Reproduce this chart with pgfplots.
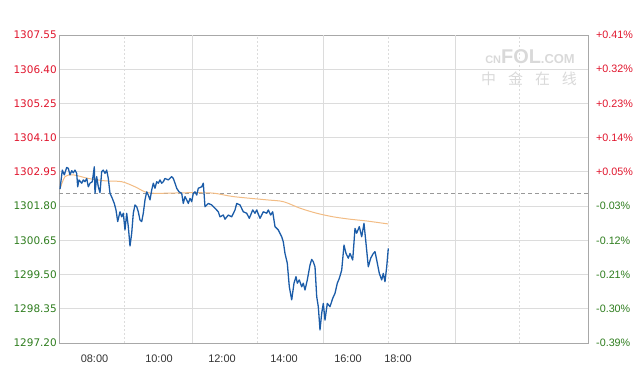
\documentclass[border=0pt]{standalone}
\usepackage{pgfplots}
\pgfplotsset{compat=1.18}
\usepackage{fontspec}
\setmainfont{Liberation Sans}
\newfontfamily\dejavu{DejaVu Sans}
\newfontfamily\cjk{Noto Sans CJK SC}
\definecolor{upred}{HTML}{E0142C}
\definecolor{dngreen}{HTML}{2E7D1E}
\definecolor{lineblue}{HTML}{1B5CA8}
\definecolor{avgorange}{HTML}{F2BC84}
\definecolor{gridc}{HTML}{DCDCDC}
\definecolor{axisc}{HTML}{A8A8A8}
\begin{document}
\begin{tikzpicture}
\begin{axis}[name=main, width=529bp, height=308bp, scale only axis,
 xmin=59, xmax=588, ymin=1297.2, ymax=1307.55,
 axis line style={axisc, line width=0.8bp},
 ytick={1297.2,1298.35,1299.5,1300.65,1301.8,1302.95,1304.1,1305.25,1306.4,1307.55},
 yticklabels={\textcolor{dngreen}{1297.20},\textcolor{dngreen}{1298.35},\textcolor{dngreen}{1299.50},\textcolor{dngreen}{1300.65},\textcolor{dngreen}{1301.80},\textcolor{upred}{1302.95},\textcolor{upred}{1304.10},\textcolor{upred}{1305.25},\textcolor{upred}{1306.40},\textcolor{upred}{1307.55}},
 yticklabel style={font=\dejavu\fontsize{10.5}{12}\selectfont, inner sep=0pt, xshift=-2bp},
 ymajorgrids, major grid style={gridc, line width=0.8bp},
 xtick={94.5,159,222,284,348,398},
 xticklabels={08:00,10:00,12:00,14:00,16:00,18:00},
 xticklabel style={font=\fontsize{11}{12}\selectfont, text=black!80, inner sep=0pt, yshift=-12bp},
 extra x ticks={192,323,455},
 extra x tick labels={},
 extra x tick style={xmajorgrids=true, major grid style={gridc, line width=0.8bp}},
 major tick length=0,
]
\draw[gridc, line width=0.8bp, dash pattern=on 2bp off 2bp] (axis cs:124,1297.2) -- (axis cs:124,1307.55);
\draw[gridc, line width=0.8bp, dash pattern=on 2bp off 2bp] (axis cs:257,1297.2) -- (axis cs:257,1307.55);
\draw[gridc, line width=0.8bp, dash pattern=on 2bp off 2bp] (axis cs:388,1297.2) -- (axis cs:388,1307.55);
\draw[gridc, line width=0.8bp, dash pattern=on 2bp off 2bp] (axis cs:519,1297.2) -- (axis cs:519,1307.55);
\node[text=black!15, font=\fontsize{11}{11}\selectfont\bfseries, inner sep=0pt] at (axis cs:530,1306.81) {CN{\fontsize{20}{20}\selectfont FOL}{\fontsize{13}{13}\selectfont .COM}};
\node[text=black!15, font=\cjk\fontsize{15}{15}\selectfont, inner sep=0pt] at (axis cs:529,1306.07) {中\hspace{12bp}金\hspace{12bp}在\hspace{12bp}线};
\addplot[gray!80, line width=0.7bp, dash pattern=on 4bp off 3bp] coordinates {(59,1302.23) (588,1302.23)};
\addplot[avgorange, line width=1bp, smooth] coordinates {
(60,1302.37) (65,1302.79) (73.3,1302.85) (88.3,1302.73) (105,1302.65) (121.7,1302.62) (135,1302.45) (145,1302.28) (155,1302.23) (188.3,1302.25) (200,1302.25) (215,1302.23) (233.3,1302.12) (266.7,1302.01) (283.3,1301.95) (300,1301.73) (316.7,1301.56) (333.3,1301.44) (350,1301.36) (366.7,1301.30) (388.3,1301.20)};
\addplot[lineblue, line width=1.3bp, line join=round] coordinates {
(60.0,1302.37) (62.3,1303.01) (64.3,1302.85) (66.7,1303.10) (68.3,1303.07) (70.0,1302.85) (71.7,1302.99) (73.3,1302.92) (75.0,1303.01) (76.7,1302.90)
(77.7,1302.45) (79.0,1302.68) (81.7,1302.57) (83.3,1302.68) (85.0,1302.62) (86.7,1302.73) (88.3,1302.45) (90.0,1302.57) (92.3,1302.62) (94.3,1303.12)
(95.0,1302.23) (96.7,1302.79) (98.3,1302.45) (100.0,1302.25) (101.7,1302.96) (103.3,1303.01) (105.0,1302.90) (106.7,1303.01) (108.3,1302.73) (110.0,1302.23)
(112.3,1302.06) (114.3,1301.89) (116.0,1301.67) (117.7,1301.28) (120.0,1301.61) (121.7,1301.44) (123.3,1301.56) (125.0,1301.00) (126.7,1301.56) (128.3,1301.11)
(130.0,1300.46) (131.7,1300.89) (133.3,1301.56) (135.0,1301.84) (136.7,1301.78) (138.3,1301.61) (140.0,1301.33) (141.7,1301.28) (143.3,1301.56) (145.0,1302.01)
(146.7,1302.28) (148.3,1302.17) (150.0,1302.01) (151.7,1302.34) (153.3,1302.57) (155.0,1302.40) (156.7,1302.62) (158.3,1302.57) (160.0,1302.68) (161.7,1302.57)
(163.3,1302.62) (165.0,1302.73) (168.3,1302.68) (171.7,1302.79) (173.3,1302.73) (175.0,1302.57) (176.7,1302.40) (179.0,1302.28) (181.7,1302.23) (183.3,1301.89)
(185.0,1302.12) (186.7,1302.01) (188.3,1301.89) (190.0,1302.06) (191.7,1301.95) (193.3,1302.23) (195.0,1302.28) (196.7,1302.17) (198.3,1302.40) (201.7,1302.45)
(203.3,1302.57) (205.0,1301.78) (208.3,1301.89) (211.7,1301.84) (215.0,1301.73) (218.3,1301.61) (220.0,1301.44) (223.3,1301.50) (225.0,1301.36) (228.3,1301.50)
(231.7,1301.44) (235.0,1301.67) (236.7,1301.89) (240.0,1301.84) (243.3,1301.61) (246.7,1301.56) (249.3,1301.39) (252.7,1301.67) (255.0,1301.56) (256.7,1301.67)
(260.0,1301.39) (263.3,1301.61) (266.7,1301.56) (268.3,1301.67) (270.7,1301.50) (272.7,1301.61) (275.0,1301.11) (278.3,1301.00) (281.7,1300.77) (283.3,1300.60)
(285.0,1300.21) (287.3,1299.88) (289.3,1299.09) (291.7,1298.65) (294.0,1299.21) (296.0,1299.43) (297.3,1299.21) (299.3,1299.32) (301.7,1299.09) (303.3,1299.21)
(305.0,1298.98) (307.3,1299.32) (310.0,1299.82) (311.7,1300.01) (313.3,1299.93) (315.0,1299.76) (316.7,1298.76) (318.3,1298.42) (320.0,1297.64) (321.7,1298.20)
(323.3,1298.53) (325.0,1297.97) (327.3,1298.53) (330.0,1298.42) (332.7,1298.70) (335.0,1298.87) (337.3,1299.21) (339.3,1299.37) (341.7,1299.65) (344.0,1300.49)
(346.0,1300.21) (348.3,1300.05) (350.0,1300.21) (352.7,1299.99) (355.0,1301.05) (356.7,1300.89) (359.3,1301.11) (361.7,1300.77) (364.0,1301.22) (366.0,1300.55)
(368.3,1299.76) (370.7,1300.05) (373.3,1300.21) (375.0,1300.27) (376.7,1299.99) (379.3,1299.54) (381.7,1299.32) (383.3,1299.54) (385.0,1299.26) (386.7,1299.76)
(388.3,1300.38)};
\end{axis}
\begin{axis}[width=529bp, height=308bp, scale only axis,
 xmin=59, xmax=588, ymin=1297.2, ymax=1307.55,
 axis y line*=right, axis x line=none,
 axis line style={axisc, line width=0.8bp},
 ytick={1297.2,1298.35,1299.5,1300.65,1301.8,1302.95,1304.1,1305.25,1306.4,1307.55},
 yticklabels={\textcolor{dngreen}{-0.39\%},\textcolor{dngreen}{-0.30\%},\textcolor{dngreen}{-0.21\%},\textcolor{dngreen}{-0.12\%},\textcolor{dngreen}{-0.03\%},\textcolor{upred}{+0.05\%},\textcolor{upred}{+0.14\%},\textcolor{upred}{+0.23\%},\textcolor{upred}{+0.32\%},\textcolor{upred}{+0.41\%}},
 yticklabel style={font=\fontsize{10.8}{12}\selectfont, inner sep=0pt, xshift=8bp, anchor=west},
 major tick length=0,
]
\addplot[draw=none] coordinates {(100,1300)};
\end{axis}
\pgfresetboundingbox
\path[use as bounding box] (-59bp,-39bp) rectangle (580bp,343bp);
\end{tikzpicture}
\end{document}
